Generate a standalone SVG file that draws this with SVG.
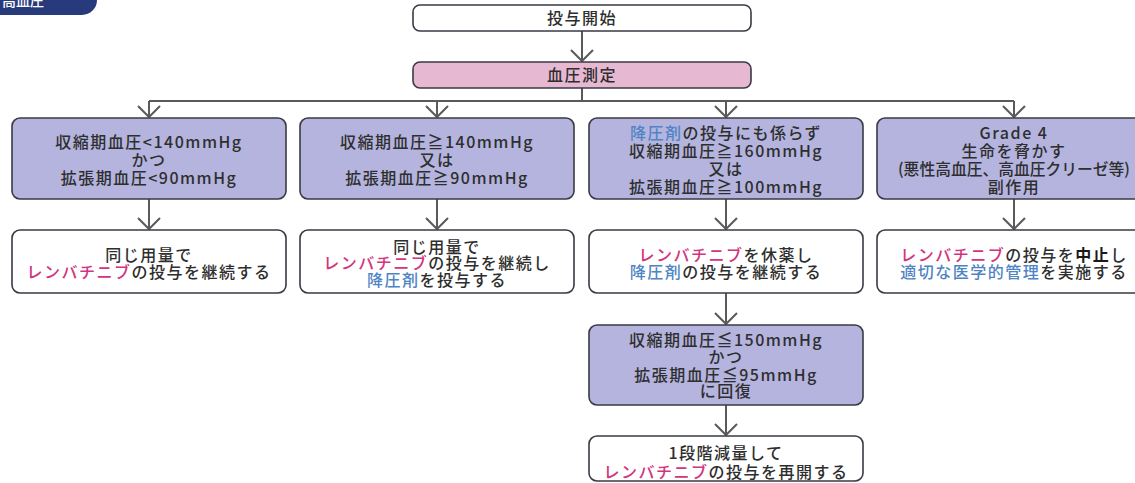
<svg xmlns="http://www.w3.org/2000/svg" width="1135" height="483" viewBox="0 0 1135 483">
<style>
text{font-family:"Noto Sans CJK JP","Noto Sans",sans-serif;font-size:16px;font-weight:500;letter-spacing:1.5px;fill:#2e2e2e;text-anchor:middle}
.w{fill:#ffffff;stroke:#3a3a44;stroke-width:1.6}
.c{fill:#b4b4de;stroke:#3a3a44;stroke-width:1.6}
.p{fill:#e6b8d1;stroke:#3a3a44;stroke-width:1.6}
.m{fill:#d2357e}
.b{fill:#4f84c4}
.k{font-weight:bold;fill:#1a1a1a}
.ln{fill:none;stroke:#5a5a5a;stroke-width:2}
</style>
<rect width="1135" height="483" fill="#ffffff"/>
<g id="tab">
<path d="M0 0H97A15 15 0 0 1 82 15H0Z" fill="#263a7c"/>
<text x="2" y="6" style="text-anchor:start;fill:#ffffff;font-size:14px;letter-spacing:0">高血圧</text>
</g>
<g id="connectors">
<path class="ln" d="M582 31V61M571 50L582 61L593 50"/>
<path class="ln" d="M582 88V101M149 101H1014"/>
<path class="ln" d="M149 101V117M138 106L149 117L160 106"/>
<path class="ln" d="M437 101V117M426 106L437 117L448 106"/>
<path class="ln" d="M726 101V117M715 106L726 117L737 106"/>
<path class="ln" d="M1014 101V117M1003 106L1014 117L1025 106"/>
<path class="ln" d="M149 199V229M138 218L149 229L160 218"/>
<path class="ln" d="M437 199V229M426 218L437 229L448 218"/>
<path class="ln" d="M726 199V229M715 218L726 229L737 218"/>
<path class="ln" d="M1014 199V229M1003 218L1014 229L1025 218"/>
<path class="ln" d="M726 293V324M715 313L726 324L737 313"/>
<path class="ln" d="M726 405V435M715 424L726 435L737 424"/>
</g>
<g id="start">
<rect class="w" x="413" y="5" width="338" height="26" rx="7"/>
<text x="582" y="24">投与開始</text>
</g>
<g id="measure">
<rect class="p" x="413" y="62" width="338" height="26" rx="7"/>
<text x="582" y="81">血圧測定</text>
</g>
<g id="cond1">
<rect class="c" x="12" y="118" width="274" height="81" rx="8"/>
<text x="149" y="148">収縮期血圧&lt;140mmHg</text>
<text x="149" y="166">かつ</text>
<text x="149" y="184">拡張期血圧&lt;90mmHg</text>
</g>
<g id="cond2">
<rect class="c" x="300" y="118" width="274" height="81" rx="8"/>
<text x="437" y="148">収縮期血圧≧140mmHg</text>
<text x="437" y="166">又は</text>
<text x="437" y="184">拡張期血圧≧90mmHg</text>
</g>
<g id="cond3">
<rect class="c" x="589" y="118" width="274" height="81" rx="8"/>
<text x="726" y="139"><tspan class="b">降圧剤</tspan>の投与にも係らず</text>
<text x="726" y="157">収縮期血圧≧160mmHg</text>
<text x="726" y="175">又は</text>
<text x="726" y="193">拡張期血圧≧100mmHg</text>
</g>
<g id="cond4">
<rect class="c" x="877" y="118" width="274" height="81" rx="8"/>
<text x="1014" y="139">Grade 4</text>
<text x="1014" y="157">生命を脅かす</text>
<text x="1014" y="175" textLength="232" lengthAdjust="spacingAndGlyphs" style="letter-spacing:0">(悪性高血圧、高血圧クリーゼ等)</text>
<text x="1014" y="193">副作用</text>
</g>
<g id="act1">
<rect class="w" x="12" y="230" width="274" height="63" rx="8"/>
<text x="149" y="261">同じ用量で</text>
<text x="149" y="278"><tspan class="m">レンバチニブ</tspan>の投与を継続する</text>
</g>
<g id="act2">
<rect class="w" x="300" y="230" width="274" height="63" rx="8"/>
<text x="437" y="253">同じ用量で</text>
<text x="437" y="269"><tspan class="m">レンバチニブ</tspan>の投与を継続し</text>
<text x="437" y="286"><tspan class="b">降圧剤</tspan>を投与する</text>
</g>
<g id="act3">
<rect class="w" x="589" y="230" width="274" height="63" rx="8"/>
<text x="726" y="261"><tspan class="m">レンバチニブ</tspan>を休薬し</text>
<text x="726" y="278"><tspan class="b">降圧剤</tspan>の投与を継続する</text>
</g>
<g id="act4">
<rect class="w" x="877" y="230" width="274" height="63" rx="8"/>
<text x="1014" y="261"><tspan class="m">レンバチニブ</tspan>の投与を<tspan class="k">中止</tspan>し</text>
<text x="1014" y="278"><tspan class="b">適切な医学的管理</tspan>を実施する</text>
</g>
<g id="recover">
<rect class="c" x="589" y="325" width="274" height="80" rx="8"/>
<text x="726" y="346">収縮期血圧≦150mmHg</text>
<text x="726" y="363">かつ</text>
<text x="726" y="381">拡張期血圧≦95mmHg</text>
<text x="726" y="397">に回復</text>
</g>
<g id="resume">
<rect class="w" x="589" y="436" width="274" height="45" rx="8"/>
<text x="726" y="459">1段階減量して</text>
<text x="726" y="478"><tspan class="m">レンバチニブ</tspan>の投与を再開する</text>
</g>
</svg>
